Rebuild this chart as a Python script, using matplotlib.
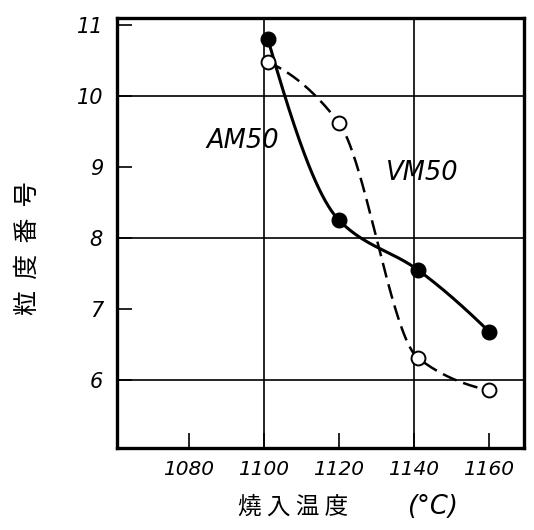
import numpy as np
import matplotlib.pyplot as plt

plt.rcParams['font.family'] = ['DejaVu Sans', 'Noto Sans CJK JP']

# quench temperature (deg C) vs grain size number
am50_temp = [1101, 1120, 1141, 1160]
am50_grain = [10.81, 8.25, 7.55, 6.68]
vm50_temp = [1101, 1120, 1141, 1160]
vm50_grain = [10.48, 9.62, 6.31, 5.85]

xticks = [1080, 1100, 1120, 1140, 1160]
yticks = [6, 7, 8, 9, 10, 11]


def smooth_curve(x, y, num=300):
    # monotone cubic (Fritsch-Carlson) through the measured points
    x = np.asarray(x, float)
    y = np.asarray(y, float)
    h = np.diff(x)
    d = np.diff(y) / h
    n = len(x)
    m = np.zeros(n)
    for k in range(1, n - 1):
        if d[k - 1] * d[k] > 0:
            w1 = 2 * h[k] + h[k - 1]
            w2 = h[k] + 2 * h[k - 1]
            m[k] = (w1 + w2) / (w1 / d[k - 1] + w2 / d[k])

    def end(h0, h1, d0, d1):
        s = ((2 * h0 + h1) * d0 - h0 * d1) / (h0 + h1)
        if np.sign(s) != np.sign(d0):
            return 0.5 * d0
        return s

    m[0] = end(h[0], h[1], d[0], d[1])
    m[-1] = end(h[-1], h[-2], d[-1], d[-2])

    xs = np.linspace(x[0], x[-1], num)
    k = np.clip(np.searchsorted(x, xs) - 1, 0, n - 2)
    t = (xs - x[k]) / h[k]
    ys = (2 * t ** 3 - 3 * t ** 2 + 1) * y[k] + (t ** 3 - 2 * t ** 2 + t) * h[k] * m[k] \
        + (-2 * t ** 3 + 3 * t ** 2) * y[k + 1] + (t ** 3 - t ** 2) * h[k] * m[k + 1]
    return xs, ys


fig = plt.figure(figsize=(5.34, 5.30), dpi=100)
ax = fig.add_axes([0.219, 0.155, 0.762, 0.811])

sx, sy = smooth_curve(am50_temp, am50_grain)
ax.plot(sx, sy, color='black', linewidth=2.2, zorder=3)
ax.plot(am50_temp, am50_grain, 'o', color='black', markersize=10.5, zorder=4)

sx, sy = smooth_curve(vm50_temp, vm50_grain)
ax.plot(sx, sy, color='black', linewidth=1.8, dashes=(6, 2.8), zorder=3)
ax.plot(vm50_temp, vm50_grain, 'o', markerfacecolor='white', markeredgecolor='black',
        markeredgewidth=1.4, markersize=10, zorder=4)

ax.text(1094.4, 9.37, 'AM50', fontsize=18.5, style='italic', ha='center', va='center')
ax.text(1142.1, 8.92, 'VM50', fontsize=18.5, style='italic', ha='center', va='center')

ax.set_xlim(1060.8, 1169.3)
ax.set_ylim(5.04, 11.1)

# full grid lines only at every other tick, short inner ticks elsewhere
for gx in [1100, 1140]:
    ax.axvline(gx, color='black', linewidth=1.2, zorder=1)
for gy in [6, 8, 10]:
    ax.axhline(gy, color='black', linewidth=1.2, zorder=1)

ax.set_xticks(xticks)
ax.set_yticks(yticks)
ax.set_xticklabels([str(t) for t in xticks], fontsize=14.5, style='italic')
ax.set_yticklabels([str(t) for t in yticks], fontsize=15, style='italic')
ax.tick_params(direction='in', length=11, width=1.2)
ax.tick_params(axis='x', pad=9)
ax.tick_params(axis='y', pad=10)

for sp in ax.spines.values():
    sp.set_linewidth(2.4)

# axis titles
cjk = ['Noto Sans CJK JP', 'DejaVu Sans']
fig.text(0.5496, 0.0434, '燒 入 温 度', fontsize=17, family=cjk, ha='center', va='center')
fig.text(0.809, 0.0434, '(°C)', fontsize=18.5, style='italic', ha='center', va='center')
fig.text(0.0515, 0.532, '粒  度  番  号', fontsize=18, family=cjk, rotation=90,
         ha='center', va='center')

fig.savefig('out.png', dpi=100, facecolor='white')
